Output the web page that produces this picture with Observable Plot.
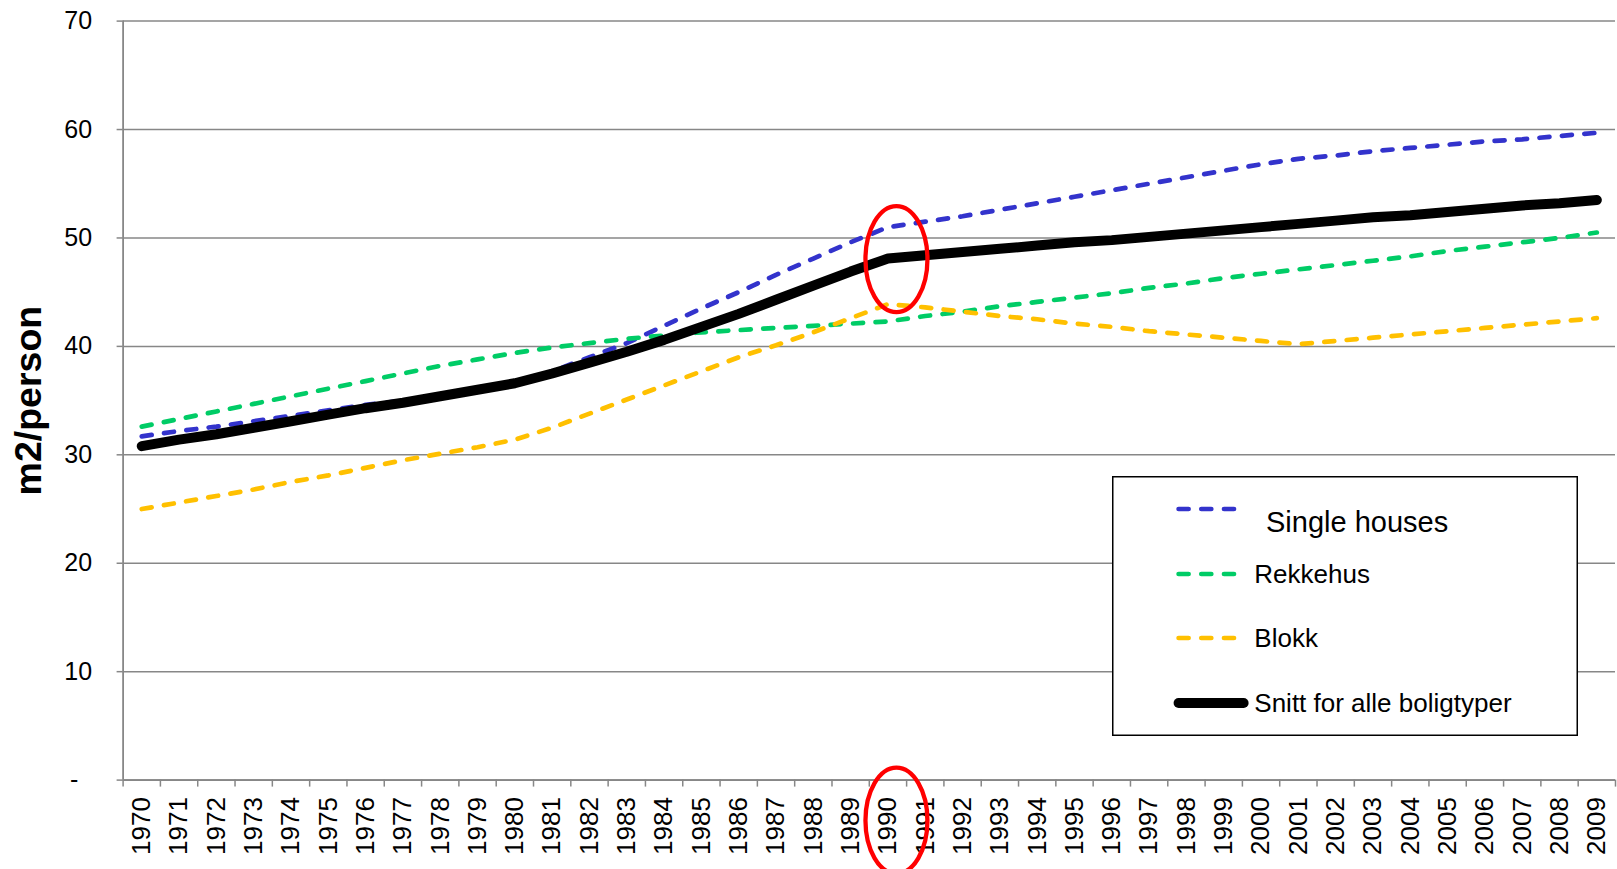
<!DOCTYPE html>
<html><head><meta charset="utf-8">
<script src="https://cdn.jsdelivr.net/npm/d3@7"></script>
<script src="https://cdn.jsdelivr.net/npm/@observablehq/plot@0.6"></script>
<style>
body{margin:0;background:#fff;font-family:"Liberation Sans",Arial,sans-serif;}
#wrap{position:relative;width:1617px;height:869px;overflow:hidden;background:#fff;}
#legend{position:absolute;left:1111.7px;top:476.4px;width:466px;height:260px;}
</style></head>
<body><div id="wrap"></div>
<script>
const years = [1970,1971,1972,1973,1974,1975,1976,1977,1978,1979,
  1980,1981,1982,1983,1984,1985,1986,1987,1988,1989,
  1990,1991,1992,1993,1994,1995,1996,1997,1998,1999,
  2000,2001,2002,2003,2004,2005,2006,2007,2008,2009];
const singleHouses = [31.7,32.2,32.6,33.1,33.6,34.1,34.6,35.0,35.5,36.0,
  36.5,37.7,39.0,40.3,41.9,43.5,45.0,46.6,48.1,49.6,
  51.0,51.5,52.0,52.6,53.2,53.8,54.4,55.0,55.6,56.2,
  56.8,57.3,57.6,58.0,58.3,58.6,58.9,59.1,59.4,59.7];
const rekkehus = [32.6,33.3,34.0,34.7,35.4,36.1,36.8,37.5,38.2,38.8,
  39.4,39.9,40.3,40.7,41.0,41.3,41.5,41.7,41.9,42.1,
  42.3,42.8,43.2,43.7,44.1,44.5,44.9,45.4,45.8,46.3,
  46.7,47.1,47.5,47.9,48.3,48.8,49.2,49.6,50.0,50.5];
const blokk = [25.0,25.6,26.2,26.8,27.5,28.1,28.8,29.5,30.1,30.7,
  31.4,32.5,33.8,35.1,36.4,37.7,39.0,40.1,41.3,42.6,
  43.9,43.6,43.2,42.8,42.5,42.1,41.8,41.4,41.1,40.8,
  40.5,40.2,40.5,40.8,41.1,41.4,41.7,42.0,42.3,42.6];
const snitt = [30.8,31.4,31.9,32.5,33.1,33.7,34.3,34.8,35.4,36.0,
  36.6,37.5,38.5,39.5,40.6,41.8,43.0,44.3,45.6,46.9,
  48.1,48.4,48.7,49.0,49.3,49.6,49.8,50.1,50.4,50.7,
  51.0,51.3,51.6,51.9,52.1,52.4,52.7,53.0,53.2,53.5];
const seriesNames = ["Single houses","Rekkehus","Blokk","Snitt for alle boligtyper"];
const seriesColors = ["#3333CC","#00CC66","#FFC000","#000000"];
const yTicks = [0,10,20,30,40,50,60,70];
const yLabel = "m2/person";
const highlightYear = 1990;

const seriesValues = [singleHouses, rekkehus, blokk, snitt];
const tables = seriesValues.map((vals, s) => years.map((yr, i) => ({year: yr, value: vals[i], series: seriesNames[s]})));
const boundaries = years.map(y => y - 0.5).concat([years[years.length-1] + 0.5]);
const gray = "#878787";
const font = "'Liberation Sans', Arial, sans-serif";

const dashed = (s) => Plot.line(tables[s], {x: "year", y: "value", stroke: seriesColors[s], strokeWidth: 4.7,
  strokeDasharray: "10,12.5", strokeLinecap: "round", strokeLinejoin: "round"});

const plot = Plot.plot({
  width: 1617, height: 869,
  marginLeft: 122.6, marginRight: 2, marginTop: 20.6, marginBottom: 89.4,
  style: {fontFamily: font, color: "#000", background: "#fff", overflow: "visible"},
  x: {type: "linear", domain: [boundaries[0], boundaries[boundaries.length-1]]},
  y: {domain: [0, 70]},
  marks: [
    Plot.gridY(yTicks, {stroke: gray, strokeOpacity: 1, strokeWidth: 1.5}),
    Plot.ruleY([0], {stroke: gray, strokeWidth: 1.8}),
    Plot.ruleX([boundaries[0]], {stroke: gray, strokeWidth: 1.8}),
    Plot.axisY(yTicks, {tickSize: 6, tickPadding: 25, fontSize: 25, stroke: gray, strokeWidth: 1.5,
      tickFormat: d => d === 0 ? "-\u00a0\u00a0" : String(d), label: null}),
    Plot.axisX(boundaries, {tickSize: 7, stroke: gray, strokeWidth: 1.5, tickFormat: () => "", label: null}),
    Plot.axisX(years, {tickSize: 0, tickPadding: 17, tickRotate: -90, fontSize: 26,
      tickFormat: d => String(d), label: null}),
    Plot.text([yLabel], {frameAnchor: "left", textAnchor: "middle", dx: -94, rotate: -90, fontSize: 37.5,
      fontWeight: "bold", fill: "#000"}),
    dashed(0), dashed(1), dashed(2),
    Plot.line(tables[3], {x: "year", y: "value", stroke: seriesColors[3], strokeWidth: 10,
      strokeLinecap: "round", strokeLinejoin: "round"})
  ]
});

const wrap = document.getElementById("wrap");
wrap.appendChild(plot);

// red highlight ellipses anchored on the scales
const sx = plot.scale("x"), sy = plot.scale("y");
const svg = d3.select(plot);
const cx = sx.apply(highlightYear) + 9;
svg.append("ellipse").attr("cx", cx).attr("cy", sy.apply(48)).attr("rx", 31).attr("ry", 53)
  .attr("fill", "none").attr("stroke", "#FF0000").attr("stroke-width", 4.3);
svg.append("ellipse").attr("cx", cx).attr("cy", sy.apply(0) + 41).attr("rx", 31).attr("ry", 53)
  .attr("fill", "none").attr("stroke", "#FF0000").attr("stroke-width", 4.3);

// legend
const leg = d3.select(wrap).append("svg").attr("id", "legend").attr("width", 466).attr("height", 260)
  .style("font-family", font);
leg.append("rect").attr("x", 0.75).attr("y", 0.75).attr("width", 464.5).attr("height", 258.5)
  .attr("fill", "#fff").attr("stroke", "#000").attr("stroke-width", 1.5);
const rows = [
  {y: 33, ty: 46, tx: 154, fs: 29},
  {y: 98, ty: 98, tx: 142.3, fs: 26},
  {y: 162, ty: 162, tx: 142.3, fs: 26},
  {y: 227, ty: 227, tx: 142.3, fs: 26}
];
rows.forEach((r, i) => {
  const solid = i === 3;
  leg.append("line").attr("x1", 66.6).attr("x2", solid ? 131.6 : 123.3).attr("y1", r.y).attr("y2", r.y)
    .attr("stroke", seriesColors[i]).attr("stroke-width", solid ? 10 : 4.7)
    .attr("stroke-linecap", "round").attr("stroke-dasharray", solid ? null : "10,12.7");
  leg.append("text").attr("x", r.tx).attr("y", r.ty).attr("dy", "0.35em").attr("font-size", r.fs)
    .attr("fill", "#000").text(seriesNames[i]);
});
</script>
</body></html>
